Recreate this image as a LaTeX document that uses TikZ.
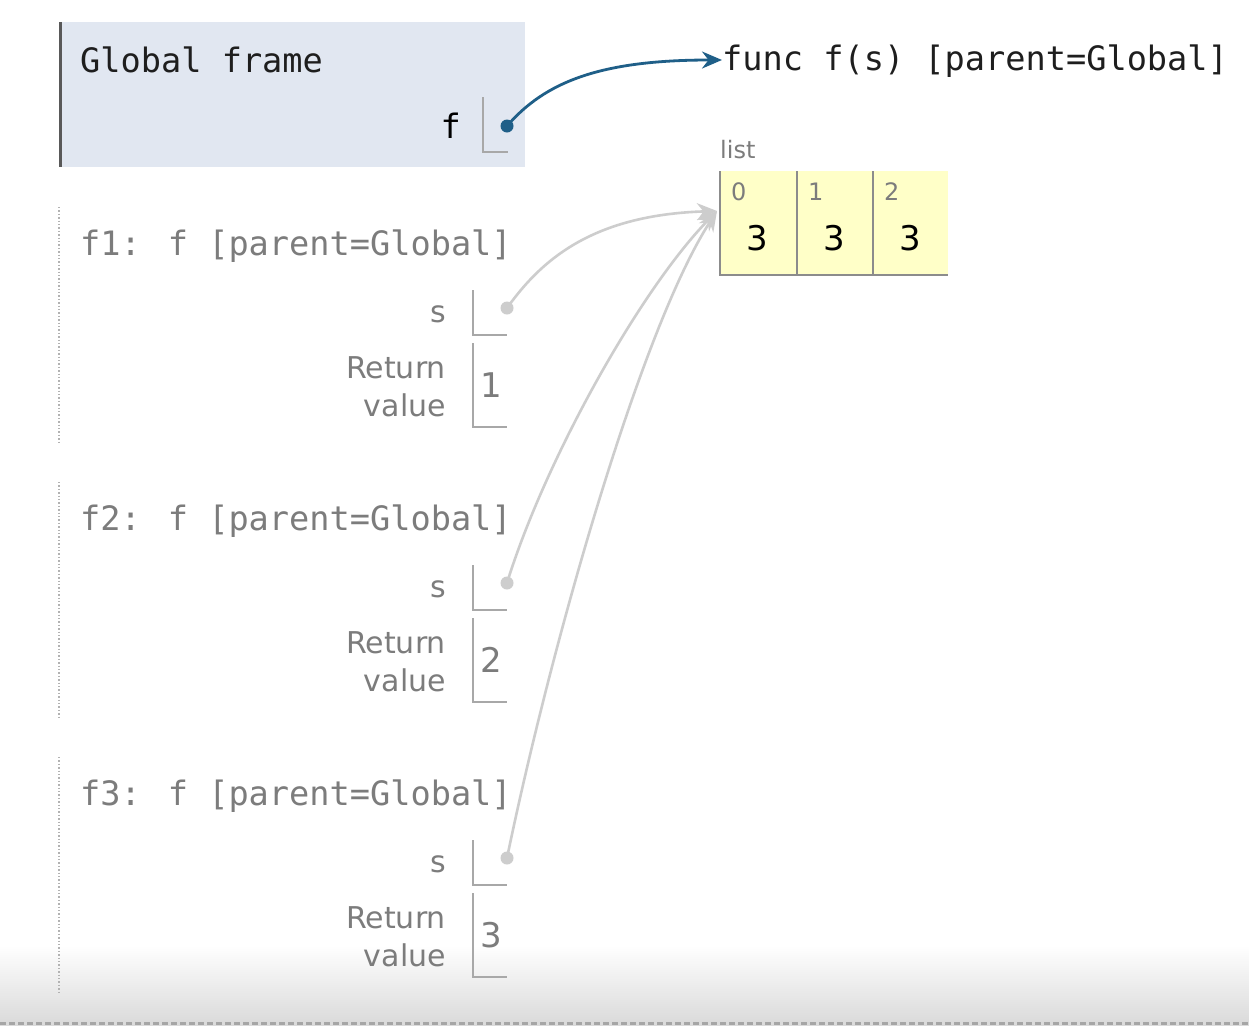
\documentclass[tikz,border=0pt]{standalone}
\usepackage{fontspec}
\setmainfont{DejaVu Sans}
\newfontfamily\codefont{DejaVu Sans Mono}
\usetikzlibrary{arrows.meta}

\definecolor{globalbg}{HTML}{E1E7F1}
\definecolor{listbg}{HTML}{FFFFC8}
\definecolor{ptrblue}{HTML}{1F5F88}
\definecolor{ptrgray}{HTML}{CDCDCD}
\definecolor{framegray}{HTML}{7C7C7C}
\definecolor{cellline}{HTML}{A8A8A8}
\definecolor{inkdark}{HTML}{1E1E1E}

\tikzset{
  codetext/.style={font=\codefont\fontsize{33.6}{40}\selectfont, inner sep=0pt},
  labeltext/.style={font=\fontsize{30}{38}\selectfont, inner sep=0pt, text=framegray},
  celltext/.style={font=\fontsize{34}{40}\selectfont, inner sep=0pt},
  smalltext/.style={font=\fontsize{24}{28}\selectfont, inner sep=0pt, text=framegray},
  cellrule/.style={draw=cellline, line width=1.6pt},
  ptrdot/.style={circle, inner sep=0pt, minimum size=13pt},
  grayptr/.style={draw=ptrgray, line width=2.6pt, -{Stealth[length=20pt,width=17pt]}},
  blueptr/.style={draw=ptrblue, line width=2.8pt, -{Stealth[length=20pt,width=17pt]}}
}

\begin{document}
\begin{tikzpicture}[x=1pt, y=-1pt]
\useasboundingbox (0,0) rectangle (1249,1026);
\fill[white] (0,0) rectangle (1249,1026);

% faded strip along the bottom edge
\shade[top color=white, bottom color=black!14] (0,945) rectangle (1249,1021);
\fill[black!14] (0,1021) rectangle (1249,1026);
\draw[black!35, line width=2.5pt, dash pattern=on 6pt off 3pt] (0,1023.5) -- (1249,1023.5);

% ---- Global frame ----
\fill[globalbg] (60,22) rectangle (525,167);
\draw[black!65, line width=3pt] (60,22) -- (60,167);
\node[codetext, text=inkdark, anchor=base west] (gtitle) at (80,72) {Global frame};
\node[codetext, text=black, anchor=base east] (gf) at (461,138) {f};
\draw[cellrule] (483,97) |- (508,152);
\node[ptrdot, fill=ptrblue] (gdot) at (507,126) {};

% ---- function object ----
\node[codetext, text=inkdark, anchor=base west] (func) at (722,70) {func f(s) [parent=Global]};

% ---- list object ----
\node[smalltext, anchor=base west] (listlbl) at (720,158) {list};
\fill[listbg] (720,171) rectangle (948,275);
\draw[cellrule, draw=black!45] (720,171) -- (720,275) -- (948,275);
\draw[cellrule, draw=black!45] (797,171) -- (797,275);
\draw[cellrule, draw=black!45] (873,171) -- (873,275);
\node[smalltext, anchor=base west] (i0) at (731,200) {0};
\node[smalltext, anchor=base west] (i1) at (808,200) {1};
\node[smalltext, anchor=base west] (i2) at (884,200) {2};
\node[celltext, text=black, anchor=base] (v0) at (757,250) {3};
\node[celltext, text=black, anchor=base] (v1) at (834,250) {3};
\node[celltext, text=black, anchor=base] (v2) at (910,250) {3};
\coordinate (lin) at (717,211);

% ---- call frames f1, f2, f3 ----
\foreach \k/\r in {1/1, 2/2, 3/3} {
  \begin{scope}[shift={(0,{(\k-1)*275})}]
    \draw[black!30, line width=1.4pt, dotted] (59,207) -- (59,442);
    \node[codetext, text=framegray, anchor=base west] (t\k) at (80,255) {f\k: f [parent=Global]};
    \node[labeltext, anchor=base east] (s\k) at (446,322) {s};
    \draw[cellrule] (473,290) |- (507,335);
    \node[ptrdot, fill=ptrgray] (d\k) at (507,308) {};
    \node[labeltext, anchor=base east] (rt\k) at (446,378) {Return};
    \node[labeltext, anchor=base east] (rv\k) at (446,416) {value};
    \draw[cellrule] (473,343) |- (507,427);
    \node[celltext, text=framegray, anchor=base west] (r\k) at (480,397) {\r};
  \end{scope}
}

% ---- pointers ----
\draw[blueptr] (gdot.center) .. controls (545,82) and (600,60) .. (func.base west |- 0,60);
\draw[grayptr] (d1.center) .. controls (540,262) and (590,215) .. (lin);
\draw[grayptr] (d2.center) .. controls (545,460) and (640,290) .. (lin);
\draw[grayptr] (d3.center) .. controls (550,650) and (640,330) .. (lin);
\end{tikzpicture}
\end{document}
